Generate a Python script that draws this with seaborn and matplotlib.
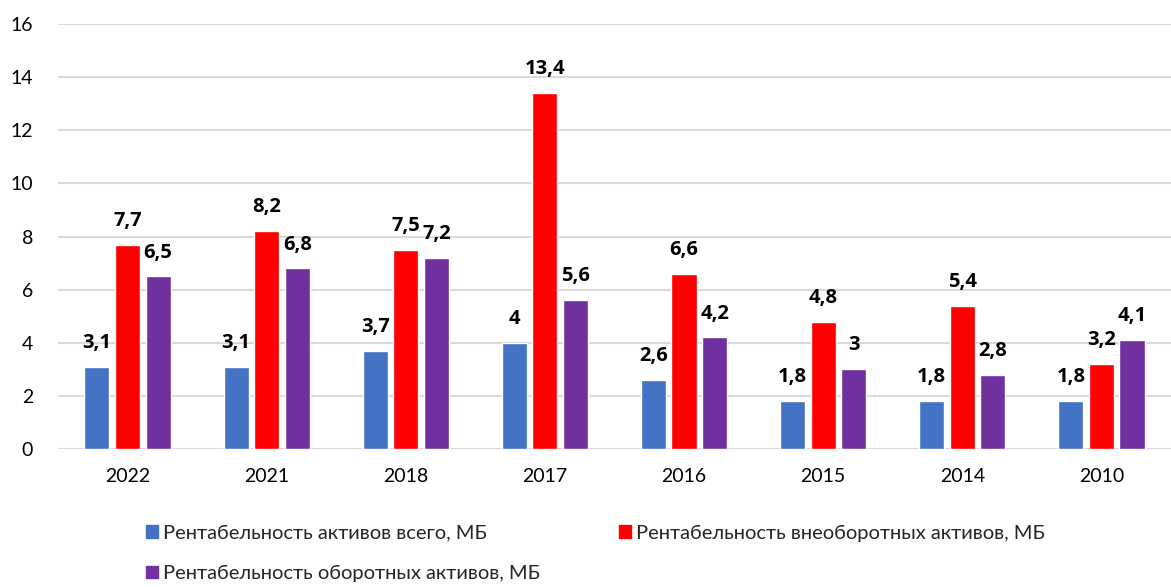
import matplotlib
matplotlib.use("Agg")
import matplotlib.pyplot as plt
import seaborn as sns
import pandas as pd

# categories and series values
years = ["2022", "2021", "2018", "2017", "2016", "2015", "2014", "2010"]
series_names = [
    "Рентабельность активов всего, МБ",
    "Рентабельность внеоборотных активов, МБ",
    "Рентабельность оборотных активов, МБ",
]
total_assets = [3.1, 3.1, 3.7, 4.0, 2.6, 1.8, 1.8, 1.8]
noncurrent_assets = [7.7, 8.2, 7.5, 13.4, 6.6, 4.8, 5.4, 3.2]
current_assets = [6.5, 6.8, 7.2, 5.6, 4.2, 3.0, 2.8, 4.1]
colors = ["#4472C4", "#FF0000", "#7030A0"]
y_ticks = [0, 2, 4, 6, 8, 10, 12, 14, 16]

rows = []
for name, vals in zip(series_names, [total_assets, noncurrent_assets, current_assets]):
    for y, v in zip(years, vals):
        rows.append({"year": y, "value": v, "series": name})
df = pd.DataFrame(rows)

sns.set_style("white")
plt.rcParams["font.family"] = ["Lato", "DejaVu Sans"]

fig = plt.figure(figsize=(11.71, 5.87), dpi=100)
ax = fig.add_axes([0.0495, 0.235, 0.9505, 0.724])

sns.barplot(data=df, x="year", y="value", hue="series", order=years,
            hue_order=series_names, palette=colors, width=0.66, gap=0.18,
            saturation=1, ax=ax, legend=False)


def fmt(v):
    if v == int(v):
        return str(int(v))
    return f"{v:.1f}".replace(".", ",")


for cont, vals in zip(ax.containers, [total_assets, noncurrent_assets, current_assets]):
    ax.bar_label(cont, labels=[fmt(v) for v in vals], padding=10,
                 fontsize=14.5, fontweight="bold", color="black",
                 family=["Open Sans", "DejaVu Sans"])

ax.set_ylim(0, 16)
ax.set_yticks(y_ticks)
ax.set_xlim(-0.5, len(years) - 0.5)
ax.yaxis.grid(True, color="#d9d9d9", linewidth=1.5)
ax.set_axisbelow(True)
for s in ax.spines.values():
    s.set_visible(False)
ax.tick_params(axis="both", length=0, labelsize=14, colors="black")
ax.tick_params(axis="y", pad=18)
ax.tick_params(axis="x", pad=14)
ax.set_xlabel("")
ax.set_ylabel("")

# row-wise order for a 2-column legend: item 1, item 2 in row 1, item 3 below
handles = [plt.Rectangle((0, 0), 1, 1, color=c) for c in colors]
order = [0, 2, 1]
fig.legend([handles[i] for i in order], [series_names[i] for i in order],
           loc="upper left", bbox_to_anchor=(0.109, 0.137),
           ncol=2, frameon=False, handlelength=0.6, handleheight=0.6,
           handletextpad=0.25, columnspacing=3.9, labelspacing=1.15,
           prop={"family": ["Lato", "DejaVu Sans"], "size": 14.5})

fig.savefig("out.png", dpi=100)
